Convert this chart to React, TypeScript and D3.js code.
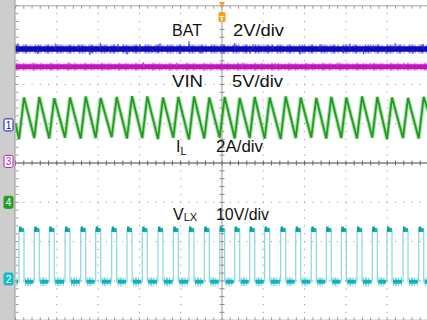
import React from "react";
import * as d3 from "d3";

// screen geometry: 10 x 8 divisions, right edge runs slightly off the picture
const W = 427,
  H = 320;
const grid = { left: 15.5, top: 5.8, divX: 41.3, divY: 39.3 };

// channels: 1 = BAT, 2 = VLX, 3 = VIN, 4 = IL
const channelIds = ["1", "2", "3", "4"];
const channelGround = [0.97, -2.95, 0.04, -1.0]; // marker position, divisions from centre
const channelPerDiv = [2, 10, 5, 2]; // V/div or A/div
const channelColors = ["#1414c4", "#16bcc2", "#c01cc0", "#229e22"];
const channelFilled = [false, true, false, true];

const traceNames = ["BAT", "VLX", "VIN", "IL"];
const scaleTexts = ["2V/div", "10V/div", "5V/div", "2A/div"];

// dc levels
const batLevel = 3.86;
const vinLevel = 12.06;
const vlxHigh = 12.45;
const vlxLow = -0.7;

// switching instants (divisions): high side on / off
const swOnT = [
  0.085, 0.455, 0.818, 1.199, 1.579, 1.942, 2.329, 2.7, 3.07, 3.45, 3.821, 4.201, 4.571, 4.944,
  5.308, 5.671, 6.034, 6.421, 6.785, 7.162, 7.525, 7.889, 8.269, 8.639, 8.995, 9.383, 9.763,
];
const swOffT = [
  0.206, 0.576, 0.939, 1.32, 1.7, 2.063, 2.45, 2.821, 3.191, 3.571, 3.942, 4.322, 4.692, 5.065,
  5.429, 5.792, 6.155, 6.542, 6.906, 7.283, 7.646, 8.01, 8.39, 8.76, 9.116, 9.504, 9.884,
];
// inductor current at valleys (switch on) and peaks (switch off), A
const ilValleyA = [
  3.22, 3.27, 3.25, 3.29, 3.24, 3.27, 3.31, 3.25, 3.27, 3.22, 3.29, 3.2, 3.25, 3.29, 3.25, 3.27,
  3.24, 3.22, 3.27, 3.29, 3.24, 3.27, 3.25, 3.29, 3.22, 3.27, 3.25,
];
const ilPeakA = [
  5.33, 5.36, 5.3, 5.33, 5.38, 5.31, 5.36, 5.4, 5.39, 5.33, 5.36, 5.38, 5.33, 5.36, 5.31, 5.36,
  5.33, 5.38, 5.33, 5.31, 5.36, 5.33, 5.38, 5.36, 5.33, 5.31, 5.36,
];
const ilStartA = 4.02;
const ilEndA = 4.6;

// noise spikes on the battery trace
const batSpikeT = [
  0.06, 0.54, 0.96, 1.51, 1.8, 2.05, 2.29, 2.48, 2.7, 3.01, 3.31, 3.5, 3.98, 4.2, 4.47, 5.31, 5.68,
  5.75, 6.23, 6.89, 7.37, 7.93, 8.1, 8.42, 8.66, 8.97, 9.19, 9.62, 9.87,
];
const batSpikeV = [
  0.3, -0.25, 0.28, 0.22, -0.3, 0.33, -0.22, 0.26, -0.28, 0.24, -0.2, 0.3, -0.26, 0.4, -0.22, 0.3,
  -0.24, 0.26, 0.22, -0.28, 0.24, -0.2, 0.28, -0.26, 0.22, -0.24, 0.3, -0.22, 0.26,
];
// noise spikes on the input trace
const vinSpikeT = [0.4, 1.3, 2.2, 3.1, 3.9, 4.6, 5.5, 6.3, 7.1, 7.8, 8.6, 9.4];
const vinSpikeV = [0.45, 0.5, -0.4, 0.55, 0.45, -0.35, 0.5, 0.45, -0.4, 0.5, 0.45, 0.5];

const x = d3
  .scaleLinear()
  .domain([0, 10])
  .range([grid.left, grid.left + 10 * grid.divX]);
const y = d3
  .scaleLinear()
  .domain([-4, 4])
  .range([grid.top + 8 * grid.divY, grid.top]);

// value -> screen y for a channel
const cy = (ch: number, v: number) => y(channelGround[ch] + v / channelPerDiv[ch]);

const FONT = "'Liberation Sans', Arial, sans-serif";

export default function App() {
  const line = d3
    .line<[number, number]>()
    .x((d) => x(d[0]))
    .y((d) => d[1]);

  // IL triangle
  const ilPts: [number, number][] = [[0, cy(3, ilStartA)]];
  swOnT.forEach((t, i) => {
    ilPts.push([t, cy(3, ilValleyA[i])]);
    ilPts.push([swOffT[i], cy(3, ilPeakA[i])]);
  });
  ilPts.push([10, cy(3, ilEndA)]);

  // VLX square wave
  const vlxPts: [number, number][] = [[0, cy(1, vlxLow)]];
  swOnT.forEach((t, i) => {
    vlxPts.push([t, cy(1, vlxLow)], [t, cy(1, vlxHigh)]);
    vlxPts.push([swOffT[i], cy(1, vlxHigh)], [swOffT[i], cy(1, vlxLow)]);
  });
  vlxPts.push([10, cy(1, vlxLow)]);

  const lowSegs = swOffT.map((t, i) => [t, i + 1 < swOnT.length ? swOnT[i + 1] : 10]);
  lowSegs.unshift([0, swOnT[0]]);

  const minorX = d3.range(0, 51).map((k) => grid.left + (k * grid.divX) / 5);
  const minorY = d3.range(0, 41).map((k) => grid.top + (k * grid.divY) / 5);
  const cx0 = x(5);
  const cy0 = y(0);
  const bottom = y(-4);

  return (
    <svg
      width={W}
      height={H}
      style={{ position: "absolute", left: 0, top: 0, background: "#fff" }}
      fontFamily={FONT}
    >
      <rect x={0} y={0} width={W} height={H} fill="#fff" />
      {/* dotted grid */}
      {d3.range(1, 10)
        .filter((i) => i !== 5)
        .map((i) =>
          minorY.map((yy, k) => (
            <rect key={`v${i}-${k}`} x={x(i) - 0.5} y={yy - 0.5} width={1} height={1} fill="#8c8c8c" />
          ))
        )}
      {d3.range(-3, 4)
        .filter((j) => j !== 0)
        .map((j) =>
          minorX.map((xx, k) => (
            <rect key={`h${j}-${k}`} x={xx - 0.5} y={y(j) - 0.5} width={1} height={1} fill="#8c8c8c" />
          ))
        )}
      {/* centre axes with minor ticks */}
      <line x1={grid.left} x2={W} y1={cy0} y2={cy0} stroke="#444" strokeWidth={1} />
      <line x1={cx0} x2={cx0} y1={grid.top} y2={bottom} stroke="#999" strokeWidth={1} />
      {minorX.map((xx, k) => (
        <line key={`ct${k}`} x1={xx} x2={xx} y1={cy0 - 2.5} y2={cy0 + 2.5} stroke="#666" />
      ))}
      {minorY.map((yy, k) => (
        <line key={`cv${k}`} x1={cx0 - 2.5} x2={cx0 + 2.5} y1={yy} y2={yy} stroke="#888" />
      ))}
      {/* borders */}
      <line x1={grid.left} x2={W} y1={grid.top} y2={grid.top} stroke="#a0a0a0" />
      <line x1={grid.left} x2={W} y1={bottom} y2={bottom} stroke="#a0a0a0" />
      {minorX.map((xx, k) => (
        <g key={`bt${k}`}>
          <line x1={xx} x2={xx} y1={grid.top} y2={grid.top + 3} stroke="#999" />
          <line x1={xx} x2={xx} y1={bottom - 3} y2={bottom} stroke="#999" />
        </g>
      ))}
      {minorY.map((yy, k) => (
        <line key={`lt${k}`} x1={grid.left} x2={grid.left + 3} y1={yy} y2={yy} stroke="#999" />
      ))}

      {/* BAT trace */}
      <line
        x1={x(0)} x2={W} y1={cy(0, batLevel)} y2={cy(0, batLevel)}
        stroke="#5a5ae0" strokeWidth={9} strokeDasharray="2 1 1 3 1 1 3 2 1 4 2 1"
        opacity={0.8}
      />
      <line x1={x(0)} x2={W} y1={cy(0, batLevel)} y2={cy(0, batLevel)} stroke="#0c0cbc" strokeWidth={5.5} />
      {batSpikeT.map((t, i) => (
        <line
          key={`bs${i}`} x1={x(t)} x2={x(t)} y1={cy(0, batLevel)} y2={cy(0, batLevel + batSpikeV[i])}
          stroke="#2a2ad0" strokeWidth={1}
        />
      ))}

      {/* VIN trace */}
      <line
        x1={x(0)} x2={W} y1={cy(2, vinLevel)} y2={cy(2, vinLevel)}
        stroke="#d868d8" strokeWidth={8} strokeDasharray="3 1 1 2 2 1 1 3 1 2" opacity={0.8}
      />
      <line x1={x(0)} x2={W} y1={cy(2, vinLevel)} y2={cy(2, vinLevel)} stroke="#bf16bf" strokeWidth={5} />
      {vinSpikeT.map((t, i) => (
        <line
          key={`vs${i}`} x1={x(t)} x2={x(t)} y1={cy(2, vinLevel)} y2={cy(2, vinLevel + vinSpikeV[i])}
          stroke="#c83cc8" strokeWidth={1}
        />
      ))}

      {/* IL trace */}
      <path d={line(ilPts) ?? ""} fill="none" stroke="#8fd48f" strokeWidth={4} opacity={0.75} />
      <path d={line(ilPts) ?? ""} fill="none" stroke="#1f9c1f" strokeWidth={1.8} />

      {/* VLX trace */}
      <path d={line(vlxPts) ?? ""} fill="none" stroke="#86d8dc" strokeWidth={1.2} />
      {lowSegs.map(([a, b], i) => (
        <g key={`lo${i}`}>
          <line
            x1={x(a) + 1} x2={x(b) - 1} y1={cy(1, vlxLow)} y2={cy(1, vlxLow)}
            stroke="#6fd0d4" strokeWidth={9} strokeDasharray="1 1 2 1 1 2" opacity={0.8}
          />
          <line x1={x(a) + 1} x2={x(b) - 1} y1={cy(1, vlxLow)} y2={cy(1, vlxLow)} stroke="#13b2b8" strokeWidth={4} />
        </g>
      ))}
      {swOnT.map((t, i) => (
        <g key={`hi${i}`}>
          <line x1={x(t)} x2={x(swOffT[i])} y1={cy(1, vlxHigh)} y2={cy(1, vlxHigh)} stroke="#13b2b8" strokeWidth={4} />
          <line x1={x(t)} x2={x(t) + 2.5} y1={cy(1, vlxHigh) - 1} y2={cy(1, vlxHigh) - 1} stroke="#0a9ea4" strokeWidth={5} />
        </g>
      ))}

      {/* left strip with channel markers */}
      <rect x={0} y={0} width={15} height={H} fill="#cdcdcd" />
      <line x1={15} x2={15} y1={0} y2={H} stroke="#9a9a9a" />
      {channelIds.map((id, i) => {
        const yy = y(channelGround[i]);
        return (
          <g key={`m${id}`}>
            <rect
              x={4} y={yy - 6} width={9} height={12} rx={1.5}
              fill={channelFilled[i] ? channelColors[i] : "#fff"}
              stroke={channelColors[i]} strokeWidth={1}
            />
            <text
              x={8.5} y={yy + 4} textAnchor="middle" fontSize={10}
              fill={channelFilled[i] ? "#fff" : channelColors[i]}
            >
              {id}
            </text>
          </g>
        );
      })}

      {/* trigger marker */}
      <path d={`M${cx0 - 3},2 L${cx0 + 3},2 L${cx0},7 Z`} fill="#f3a01c" />
      <rect x={cx0 - 3.5} y={12} width={7} height={10} rx={1.5} fill="#f3a01c" />
      <text x={cx0} y={20.5} textAnchor="middle" fontSize={8} fill="#fff" fontWeight="bold">
        T
      </text>

      {/* labels */}
      <g fontSize={16} fill="#111">
        <text x={172} y={36} fill="#111">{traceNames[0]}</text>
        <text x={233} y={36} fill="#111" textLength={51} lengthAdjust="spacingAndGlyphs">{scaleTexts[0]}</text>
        <text x={172} y={87} fill="#111" textLength={31} lengthAdjust="spacingAndGlyphs">{traceNames[2]}</text>
        <text x={232} y={87} fill="#111" textLength={51} lengthAdjust="spacingAndGlyphs">{scaleTexts[2]}</text>
        <text x={176} y={152} fill="#111">
          {traceNames[3][0]}
          <tspan fontSize={11} dy={3} fill="#111">{traceNames[3].slice(1)}</tspan>
        </text>
        <text x={216} y={152} fill="#111" textLength={47} lengthAdjust="spacingAndGlyphs">{scaleTexts[3]}</text>
        <text x={173} y={220} fill="#111">
          {traceNames[1][0]}
          <tspan fontSize={11} dy={1} fill="#111">{traceNames[1].slice(1)}</tspan>
        </text>
        <text x={216} y={220} fill="#111" textLength={53} lengthAdjust="spacingAndGlyphs">{scaleTexts[1]}</text>
      </g>
    </svg>
  );
}
